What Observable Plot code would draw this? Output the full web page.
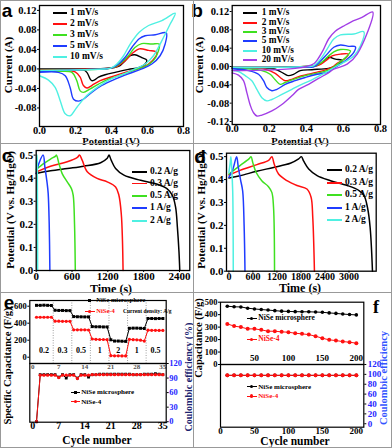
<!DOCTYPE html>
<html><head><meta charset="utf-8">
<script src="https://cdn.jsdelivr.net/npm/d3@7"></script>
<script src="https://cdn.jsdelivr.net/npm/@observablehq/plot@0.6"></script>
<style>
body{margin:0;background:#fff;}
#fig{position:relative;width:392px;height:448px;overflow:hidden;background:#fff;}
</style></head><body><div id="fig"></div><script>
// ---------- DATA ----------
// Panel a: CV curves [potential V, current A]
const cvA1 = [[0,0.000],[0.2,0.000],[0.36,0.001],[0.439,0.005],[0.476,0.017],[0.504,0.027],[0.53,0.029],[0.568,0.023],[0.596,0.018],[0.587,0.010],[0.554,0.003],[0.494,-0.001],[0.42,-0.007],[0.365,-0.012],[0.328,-0.017],[0.304,-0.023],[0.29,-0.024],[0.282,-0.021],[0.263,-0.007],[0.244,-0.002],[0.15,-0.001],[0,-0.001]];
const cvA2 = [[0,-0.002],[0.2,-0.001],[0.38,0.001],[0.43,0.005],[0.476,0.017],[0.513,0.031],[0.554,0.041],[0.606,0.038],[0.652,0.034],[0.643,0.024],[0.606,0.010],[0.554,0.001],[0.476,-0.007],[0.402,-0.016],[0.337,-0.024],[0.29,-0.034],[0.263,-0.039],[0.244,-0.034],[0.226,-0.017],[0.198,-0.006],[0.1,-0.003],[0,-0.003]];
const cvA3 = [[0,-0.003],[0.2,-0.002],[0.37,0.000],[0.411,0.003],[0.457,0.014],[0.494,0.027],[0.53,0.044],[0.568,0.052],[0.624,0.051],[0.665,0.051],[0.661,0.037],[0.633,0.017],[0.587,0.005],[0.53,-0.002],[0.457,-0.012],[0.383,-0.021],[0.328,-0.031],[0.282,-0.041],[0.244,-0.048],[0.226,-0.045],[0.207,-0.024],[0.18,-0.007],[0.1,-0.005],[0,-0.005]];
const cvA5 = [[0,-0.004],[0.2,-0.002],[0.36,0.000],[0.402,0.002],[0.439,0.010],[0.476,0.024],[0.513,0.044],[0.554,0.062],[0.587,0.068],[0.643,0.070],[0.704,0.074],[0.698,0.051],[0.67,0.027],[0.624,0.010],[0.568,0.000],[0.494,-0.010],[0.42,-0.021],[0.346,-0.034],[0.29,-0.048],[0.244,-0.062],[0.217,-0.066],[0.189,-0.062],[0.17,-0.038],[0.143,-0.014],[0.105,-0.007],[0,-0.007]];
const cvA10 = [[0,-0.003],[0.2,-0.002],[0.36,0.000],[0.393,0.001],[0.43,0.010],[0.467,0.027],[0.504,0.051],[0.554,0.075],[0.606,0.089],[0.68,0.099],[0.754,0.114],[0.726,0.092],[0.68,0.058],[0.633,0.027],[0.587,0.010],[0.53,0.000],[0.476,-0.009],[0.42,-0.017],[0.365,-0.027],[0.309,-0.041],[0.254,-0.058],[0.207,-0.079],[0.17,-0.096],[0.143,-0.092],[0.115,-0.065],[0.087,-0.038],[0.05,-0.023],[0,-0.014]];
const cvALabels = ["1 mV/s","2 mV/s","3 mV/s","5 mV/s","10 mV/s"];

// Panel b
const cvB1 = [[0,-0.002],[0.25,-0.002],[0.4,0.000],[0.458,0.002],[0.494,0.012],[0.521,0.020],[0.557,0.016],[0.593,0.013],[0.575,0.005],[0.539,-0.002],[0.519,-0.004],[0.43,-0.007],[0.367,-0.009],[0.331,-0.017],[0.304,-0.020],[0.277,-0.015],[0.232,-0.006],[0.1,-0.003],[0,-0.003]];
const cvB2 = [[0,-0.002],[0.25,-0.002],[0.4,0.000],[0.467,0.003],[0.503,0.012],[0.539,0.023],[0.584,0.027],[0.626,0.027],[0.611,0.018],[0.566,0.007],[0.545,0.000],[0.5,-0.008],[0.43,-0.015],[0.358,-0.022],[0.313,-0.029],[0.286,-0.031],[0.259,-0.024],[0.232,-0.015],[0.178,-0.006],[0.1,-0.004],[0,-0.004]];
const cvB3 = [[0,-0.002],[0.25,-0.002],[0.4,0.000],[0.44,0.000],[0.476,0.007],[0.512,0.020],[0.548,0.032],[0.584,0.037],[0.638,0.034],[0.62,0.023],[0.584,0.010],[0.55,0.000],[0.519,-0.008],[0.466,-0.014],[0.394,-0.020],[0.331,-0.028],[0.286,-0.035],[0.259,-0.039],[0.232,-0.029],[0.205,-0.017],[0.16,-0.009],[0,-0.004]];
const cvB5 = [[0,-0.002],[0.25,-0.002],[0.4,-0.001],[0.44,-0.001],[0.476,0.012],[0.512,0.027],[0.548,0.042],[0.584,0.047],[0.629,0.044],[0.665,0.043],[0.656,0.031],[0.62,0.016],[0.575,0.003],[0.54,-0.006],[0.519,-0.012],[0.447,-0.018],[0.394,-0.024],[0.34,-0.031],[0.286,-0.039],[0.241,-0.050],[0.214,-0.053],[0.187,-0.046],[0.169,-0.031],[0.142,-0.017],[0.088,-0.009],[0,-0.005]];
const cvB10 = [[0,-0.002],[0.25,-0.002],[0.4,0.000],[0.44,0.002],[0.476,0.016],[0.512,0.038],[0.548,0.060],[0.584,0.069],[0.656,0.071],[0.71,0.076],[0.692,0.045],[0.656,0.023],[0.602,0.009],[0.56,0.000],[0.519,-0.010],[0.483,-0.018],[0.43,-0.029],[0.375,-0.039],[0.322,-0.050],[0.268,-0.061],[0.214,-0.072],[0.187,-0.075],[0.16,-0.068],[0.133,-0.050],[0.106,-0.031],[0.07,-0.020],[0.034,-0.011],[0,-0.009]];
const cvB20 = [[0,-0.009],[0.16,-0.008],[0.34,-0.004],[0.40,0.000],[0.44,0.006],[0.46,0.015],[0.49,0.035],[0.52,0.060],[0.556,0.077],[0.60,0.088],[0.64,0.097],[0.70,0.107],[0.758,0.119],[0.674,0.027],[0.62,0.005],[0.548,-0.006],[0.519,-0.014],[0.466,-0.026],[0.412,-0.039],[0.358,-0.050],[0.322,-0.064],[0.268,-0.083],[0.214,-0.097],[0.16,-0.106],[0.133,-0.108],[0.115,-0.101],[0.097,-0.084],[0.079,-0.057],[0.061,-0.031],[0.034,-0.019],[0,-0.014]];
const cvBLabels = ["1 mV/s","2 mV/s","3 mV/s","5 mV/s","10 mV/s","20 mV/s"];

// Panel c: GCD [time s, potential V]
const gcC02 = [[0,0.42],[240,0.432],[520,0.442],[800,0.452],[1080,0.467],[1190,0.486],[1220,0.5],[1256,0.478],[1330,0.442],[1470,0.413],[1750,0.391],[2030,0.374],[2190,0.355],[2280,0.326],[2335,0.275],[2365,0.188],[2392,0.08],[2405,0]];
const gcC03 = [[0,0.427],[240,0.452],[520,0.471],[690,0.49],[726,0.5],[770,0.478],[855,0.428],[1020,0.399],[1190,0.384],[1330,0.362],[1385,0.326],[1425,0.246],[1445,0.13],[1455,0]];
const gcC05 = [[0,0.438],[130,0.464],[240,0.483],[325,0.496],[340,0.5],[380,0.464],[435,0.42],[520,0.384],[590,0.355],[620,0.326],[642,0.2],[655,0]];
const gcC1 = [[0,0.42],[45,0.464],[117,0.5],[145,0.449],[184,0.377],[201,0.333],[218,0.2],[229,0]];
const gcC2 = [[0,0.43],[8,0.48],[15,0.5],[18,0.45],[21,0.3],[24,0]];
// Panel d
const gcD02 = [[0,0.407],[277,0.417],[696,0.436],[1115,0.453],[1534,0.471],[1743,0.49],[1810,0.5],[1869,0.48],[1994,0.446],[2204,0.417],[2539,0.395],[2958,0.374],[3251,0.352],[3377,0.33],[3461,0.279],[3528,0.192],[3587,0]];
const gcD03 = [[0,0.42],[277,0.44],[700,0.465],[1000,0.485],[1073,0.5],[1131,0.468],[1240,0.424],[1450,0.395],[1700,0.374],[1950,0.359],[2053,0.323],[2095,0.235],[2137,0]];
const gcD05 = [[0,0.424],[277,0.461],[500,0.49],[553,0.5],[595,0.475],[679,0.432],[821,0.395],[989,0.369],[1073,0.344],[1115,0.279],[1140,0]];
const gcD1 = [[0,0.41],[100,0.445],[193,0.5],[230,0.46],[290,0.4],[344,0.35],[380,0.2],[402,0]];
const gcD2 = [[0,0.43],[30,0.47],[50,0.5],[70,0.45],[95,0.35],[105,0.2],[109,0]];
const gcLabels = ["0.2 A/g","0.3 A/g","0.5 A/g","1 A/g","2 A/g"];

// Panel e: rate capability + coulombic efficiency
const eCycles = [1,2,3,4,5,6,7,8,9,10,11,12,13,14,15,16,17,18,19,20,21,22,23,24,25,26,27,28,29,30,31,32,33,34,35];
const eCapMicro = [610,610,612,610,608,552,550,550,548,548,478,476,475,474,474,360,358,358,356,356,205,190,190,188,186,340,342,342,340,338,455,455,454,455,455];
const eCapNiSe4 = [470,470,470,470,470,424,424,422,422,422,322,322,322,322,320,214,210,208,208,206,18,16,16,15,15,210,206,205,200,190,318,316,316,315,315];
const eCEMicro = [0,97,97,97,97,97,92,97,90,97,97,90,97,97,92,97,97,98,98,98,98,98,98,98,98,98,97,97,97,98,98,98,99,98,97];
const eCENiSe4 = [0,96,96,96,96,96,91,96,96,96,96,89,96,96,96,97,97,97,97,97,97,97,97,97,97,97,97,97,97,97,97,97,97,97,97];
const eRates = ["0.2","0.3","0.5","1","2","1","0.5"];
const eRateMid = [3,8,13,18,23,28,33];
const eBreaks = [5.5,10.5,15.5,20.5,25.5,30.5];
const eTicks = [0,7,14,21,28,35];

// Panel f: cycling
const fCycles = [10,20,30,40,50,60,70,80,90,100,110,120,130,140,150,160,170,180,190,200];
const fCapMicro = [468,463,462,452,446,441,437,432,428,426,424,423,423,421,419,414,410,405,401,398];
const fCapNiSe4 = [326,308,300,286,286,278,267,267,262,259,251,246,240,227,211,198,192,184,179,171];
const fCEMicro = [98,98,98,98,98,98,98,98,98,98,98,98,98,98,98,98,98,98,98,98];
const fCENiSe4 = [98,98,98,98,98,98,98,98,98,98,98,98,98,98,98,98,98,98,98,98];
const seriesNames = ["NiSe microsphere","NiSe-4"];

// ---------- STYLE ----------
const FONT = '"Liberation Serif","Times New Roman",serif';
const SANS = '"Liberation Sans","DejaVu Sans",sans-serif';
const BLK="#000000", RED="#ff1010", GRN="#3fe020", BLU="#1f3cff", CYN="#4ff0e2", PUR="#a23ee6";
const BLUE_TXT="#2727ff";
const fig = document.getElementById("fig");

function st(fs){return {fontFamily:FONT,fontWeight:"bold",fontSize:fs+"px",color:"#000",background:"transparent",overflow:"visible"};}
function put(el,left,top){el.style.position="absolute";el.style.left=left+"px";el.style.top=top+"px";el.style.overflow="visible";fig.appendChild(el);}
function txt(s,cx,cy,o={}){
  const d=document.createElement("div");d.textContent=s;
  const size=o.size||11, anchor=o.anchor||"center";
  Object.assign(d.style,{position:"absolute",left:cx+"px",top:cy+"px",fontFamily:o.family||FONT,fontWeight:"bold",fontSize:size+"px",color:o.color||"#000",whiteSpace:"nowrap",lineHeight:"1",
    transform:(anchor==="center"?"translate(-50%,-50%)":"translate(0,-50%)")+(o.rot?" rotate(180deg)":"")});
  if(o.rot) d.style.writingMode="vertical-rl";
  fig.appendChild(d);
}
function hline(x0,x1,y,color,w=1.5){const d=document.createElement("div");Object.assign(d.style,{position:"absolute",left:x0+"px",top:(y-w/2)+"px",width:(x1-x0)+"px",height:w+"px",background:color});fig.appendChild(d);}
function box(x,y,w,h,color,round){const d=document.createElement("div");Object.assign(d.style,{position:"absolute",left:(x-w/2)+"px",top:(y-h/2)+"px",width:w+"px",height:h+"px",background:color,borderRadius:round?"50%":"0"});fig.appendChild(d);}
function legend(labels,colors,x0,x1,xt,ys,size){labels.forEach((l,i)=>{hline(x0,x1,ys[i],colors[i],1.8);txt(l,xt,ys[i],{size,anchor:"left"});});}
const pts = a => a.map(([x,y])=>({x,y}));
function curves(list,colors,sw){return list.map((a,i)=>Plot.line(pts(a),{x:"x",y:"y",stroke:colors[i],strokeWidth:sw,curve:"catmull-rom"}));}
const fx1 = d=>d.toFixed(1), fx2 = d=>d.toFixed(2), fint = d=>String(d);

// ---------- PANEL a ----------
put(Plot.plot({width:192,height:143,marginLeft:39,marginRight:9,marginTop:5,marginBottom:17,style:st(10.5),
  x:{domain:[0,0.8]},y:{domain:[-0.118,0.13]},
  marks:[
    Plot.axisX({ticks:[0,0.2,0.4,0.6,0.8],tickFormat:fx1,tickSize:0,tickPadding:0,label:null}),
    Plot.axisY({ticks:[-0.08,-0.04,0,0.04,0.08,0.12],tickFormat:fx2,tickSize:2,tickPadding:1,label:null}),
    ...curves([cvA1,cvA2,cvA3,cvA5,cvA10],[BLK,RED,GRN,BLU,CYN],1.4),
    Plot.frame({stroke:"#000",strokeWidth:1.3})
  ]}),0,0);
legend(cvALabels,[BLK,RED,GRN,BLU,CYN],53,67,70,[13.3,24,35,45.7,56.7],9.5);
txt("Current (A)",8,65,{size:11,rot:true});
txt("Potential (V)",111,141.5,{size:10.5});
txt("a",7,10,{size:19,family:SANS});

// ---------- PANEL b ----------
put(Plot.plot({width:199,height:143,marginLeft:38.7,marginRight:12,marginTop:5,marginBottom:19,style:st(10.5),
  x:{domain:[0,0.8]},y:{domain:[-0.1266,0.1331]},
  marks:[
    Plot.axisX({ticks:[0,0.2,0.4,0.6,0.8],tickFormat:fx1,tickSize:0,tickPadding:0,label:null}),
    Plot.axisY({ticks:[-0.12,-0.08,-0.04,0,0.04,0.08,0.12],tickFormat:fx2,tickSize:2,tickPadding:1,label:null}),
    ...curves([cvB1,cvB2,cvB3,cvB5,cvB10,cvB20],[BLK,RED,GRN,BLU,CYN,PUR],1.4),
    Plot.frame({stroke:"#000",strokeWidth:1.3})
  ]}),193,0);
legend(cvBLabels,[BLK,RED,GRN,BLU,CYN,PUR],243.3,256.7,261.7,[13.3,22.7,32,41.3,50.7,60],9.3);
txt("Current (A)",198.5,65,{size:11,rot:true});
txt("Potential (V)",300,142,{size:10.5});
txt("b",197,10,{size:19,family:SANS});

// ---------- PANEL c ----------
put(Plot.plot({width:192,height:149,marginLeft:35.7,marginRight:2.7,marginTop:7,marginBottom:22,style:st(11),
  x:{domain:[0,2573]},y:{domain:[0,0.52]},
  marks:[
    Plot.axisX({ticks:[0,600,1200,1800,2400],tickFormat:fint,tickSize:2,tickPadding:0,label:null}),
    Plot.axisY({ticks:[0,0.1,0.2,0.3,0.4,0.5],tickFormat:fx1,tickSize:2,tickPadding:1,label:null}),
    ...curves([gcC02,gcC03,gcC05,gcC1,gcC2],[BLK,RED,GRN,BLU,CYN],1.5),
    Plot.frame({stroke:"#000",strokeWidth:1.3})
  ]}),0,143);
legend(gcLabels,[BLK,RED,GRN,BLU,CYN],131.7,146.7,150,[171.7,183.5,196,208.3,221],9.5);
txt("Potential (V vs. Hg/HgO)",10,210,{size:11,rot:true});
txt("Time (s)",111,288.5,{size:12});
txt("c",7,155,{size:19,family:SANS});

// ---------- PANEL d ----------
put(Plot.plot({width:199,height:149,marginLeft:33,marginRight:16.3,marginTop:9.7,marginBottom:21.3,style:st(11),
  x:{domain:[-60,3680]},y:{domain:[0,0.515]},
  marks:[
    Plot.axisX({ticks:[0,600,1200,1800,2400,3000],tickFormat:fint,tickSize:2,tickPadding:0,label:null,fontSize:10}),
    Plot.axisY({ticks:[0,0.1,0.2,0.3,0.4,0.5],tickFormat:fx1,tickSize:2,tickPadding:1,label:null}),
    ...curves([gcD02,gcD03,gcD05,gcD1,gcD2],[BLK,RED,GRN,BLU,CYN],1.5),
    Plot.frame({stroke:"#000",strokeWidth:1.3})
  ]}),193,143);
legend(gcLabels,[BLK,RED,GRN,BLU,CYN],326.7,341.7,345,[170,182.7,195,207.7,220],9.5);
txt("Potential (V vs. Hg/HgO)",201,210,{size:11,rot:true});
txt("Time (s)",300,288,{size:12});
txt("d",200,156,{size:19,family:SANS});

// ---------- PANEL e ----------
const eTab = eCycles.map((c,i)=>({c,m:eCapMicro[i],n:eCapNiSe4[i],cm:eCEMicro[i],cn:eCENiSe4[i]}));
put(Plot.plot({width:192,height:71,marginLeft:29.3,marginRight:26.3,marginTop:8,marginBottom:0,style:st(8.5),
  x:{domain:[-0.8,35.9]},y:{domain:[-74,667]},
  marks:[
    Plot.ruleX(eBreaks,{stroke:"#888",strokeWidth:0.8,strokeDasharray:"1,1.5"}),
    Plot.axisY({ticks:[0,200,400,600],tickSize:2,tickPadding:1,label:null}),
    Plot.axisX({ticks:eTicks,tickSize:0,tickPadding:0.5,label:null,fontSize:7,fill:"#555"}),
    Plot.text(eRates,{x:(d,i)=>eRateMid[i],frameAnchor:"bottom",dy:-11,fontSize:8,fill:"#000"}),
    Plot.line(eTab,{x:"c",y:"m",stroke:BLK,strokeWidth:1}),
    Plot.dot(eTab,{x:"c",y:"m",fill:BLK,symbol:"square",r:1.7}),
    Plot.line(eTab,{x:"c",y:"n",stroke:RED,strokeWidth:1}),
    Plot.dot(eTab,{x:"c",y:"n",fill:RED,r:1.6}),
    Plot.frame({stroke:"#000",strokeWidth:1.2})
  ]}),0,292);
put(Plot.plot({width:192,height:85,marginLeft:29.3,marginRight:26.3,marginTop:0,marginBottom:26.3,style:st(10),
  x:{domain:[-0.8,35.9]},y:{domain:[-1,120]},
  marks:[
    Plot.axisX({ticks:eTicks,tickSize:0,tickPadding:0,label:null,fontSize:10}),
    Plot.axisY({anchor:"right",ticks:[0,30,60,90,120],tickSize:2,tickPadding:1,label:null,fill:BLUE_TXT,fontSize:8.5}),
    Plot.line(eTab,{x:"c",y:"cm",stroke:BLK,strokeWidth:1}),
    Plot.dot(eTab,{x:"c",y:"cm",fill:BLK,symbol:"square",r:1.6}),
    Plot.line(eTab,{x:"c",y:"cn",stroke:RED,strokeWidth:1}),
    Plot.dot(eTab,{x:"c",y:"cn",fill:RED,r:1.6}),
    Plot.frame({stroke:"#000",strokeWidth:1.2})
  ]}),0,363);
hline(84.7,94.7,300,BLK,1);box(89.7,300,3,3,BLK);txt(seriesNames[0],96.3,300,{size:6.5,anchor:"left"});
hline(84.7,94.7,311,RED,1);box(89.7,311,3,3,RED,true);txt(seriesNames[1],96.3,311,{size:6.5,anchor:"left",color:RED});
txt("Current density: A/g",123,312,{size:5.5,anchor:"left"});
hline(71.3,79.7,392.3,BLK,1);box(75.5,392.3,3,3,BLK);txt(seriesNames[0],81.3,392.3,{size:7,anchor:"left"});
hline(71.3,79.7,401.7,RED,1);box(75.5,401.7,3,3,RED,true);txt(seriesNames[1],81.3,401.7,{size:7,anchor:"left"});
txt("Specific Capacitance (F/g)",7.5,366,{size:10.5,rot:true});
txt("Coulombic efficiency (%)",189,377,{size:10,rot:true,color:"#1c2470"});
txt("Cycle number",97,441,{size:11.5});
txt("e",9,302,{size:19,family:SANS});

// ---------- PANEL f ----------
const fTab = fCycles.map((c,i)=>({c,m:fCapMicro[i],n:fCapNiSe4[i],cm:fCEMicro[i],cn:fCENiSe4[i]}));
put(Plot.plot({width:199,height:72,marginLeft:27,marginRight:28.7,marginTop:9.7,marginBottom:0,style:st(8.5),
  x:{domain:[0,211]},y:{domain:[0,500]},
  marks:[
    Plot.axisY({ticks:[0,100,200,300,400,500],tickSize:2,tickPadding:1,label:null}),
    Plot.axisX({ticks:[50,100,150,200],tickSize:0,tickPadding:0,dy:-10,label:null,fontSize:9}),
    Plot.line(fTab,{x:"c",y:"m",stroke:BLK,strokeWidth:1}),
    Plot.dot(fTab,{x:"c",y:"m",fill:BLK,r:1.8}),
    Plot.line(fTab,{x:"c",y:"n",stroke:RED,strokeWidth:1}),
    Plot.dot(fTab,{x:"c",y:"n",fill:RED,r:2}),
    Plot.frame({stroke:"#000",strokeWidth:1.2})
  ]}),193,292);
put(Plot.plot({width:199,height:84,marginLeft:27,marginRight:28.7,marginTop:0,marginBottom:21.3,style:st(9),
  x:{domain:[0,211]},y:{domain:[-7,120]},
  marks:[
    Plot.axisX({ticks:[0,50,100,150,200],tickSize:0,tickPadding:0,label:null}),
    Plot.axisY({anchor:"right",ticks:[0,20,40,60,80,100,120],tickSize:2,tickPadding:2,label:null,fill:BLUE_TXT,fontSize:9}),
    Plot.line(fTab,{x:"c",y:"cm",stroke:BLK,strokeWidth:1}),
    Plot.dot(fTab,{x:"c",y:"cm",fill:BLK,r:1.8}),
    Plot.line(fTab,{x:"c",y:"cn",stroke:RED,strokeWidth:1}),
    Plot.dot(fTab,{x:"c",y:"cn",fill:RED,r:2}),
    Plot.frame({stroke:"#000",strokeWidth:1.2})
  ]}),193,364);
hline(246.7,256.7,318.3,BLK,1);box(251.7,318.3,3,3,BLK,true);txt(seriesNames[0],258.3,318.3,{size:7.5,anchor:"left"});
hline(246.7,256.7,339.3,RED,1);box(251.7,339.3,3.5,3.5,RED,true);txt(seriesNames[1],258.3,339.3,{size:7.5,anchor:"left",color:RED});
hline(246.7,256.7,386.7,BLK,1);box(251.7,386.7,3,3,BLK,true);txt(seriesNames[0],258.3,386.7,{size:7,anchor:"left"});
hline(246.7,256.7,396,RED,1);box(251.7,396,3.5,3.5,RED,true);txt(seriesNames[1],258.3,396,{size:7,anchor:"left",color:RED});
txt("Capacitance (F/g)",199,338,{size:10.5,rot:true});
txt("Coulombic efficiency",383.5,378,{size:10.5,rot:true,color:"#3355ff"});
txt("Cycle number",295,441.5,{size:11.5});
txt("f",376,307,{size:18});

// ---------- dividers ----------
function vline(x,y0,y1){const d=document.createElement("div");Object.assign(d.style,{position:"absolute",left:x+"px",top:y0+"px",width:"1px",height:(y1-y0)+"px",background:"#999"});fig.appendChild(d);}
hline(0,392,143,"#999",1);hline(0,392,292,"#999",1);hline(0,392,0.5,"#999",1);hline(0,392,447.5,"#999",1);
vline(192.5,0,448);vline(0,0,448);vline(391,0,448);
</script></body></html>
